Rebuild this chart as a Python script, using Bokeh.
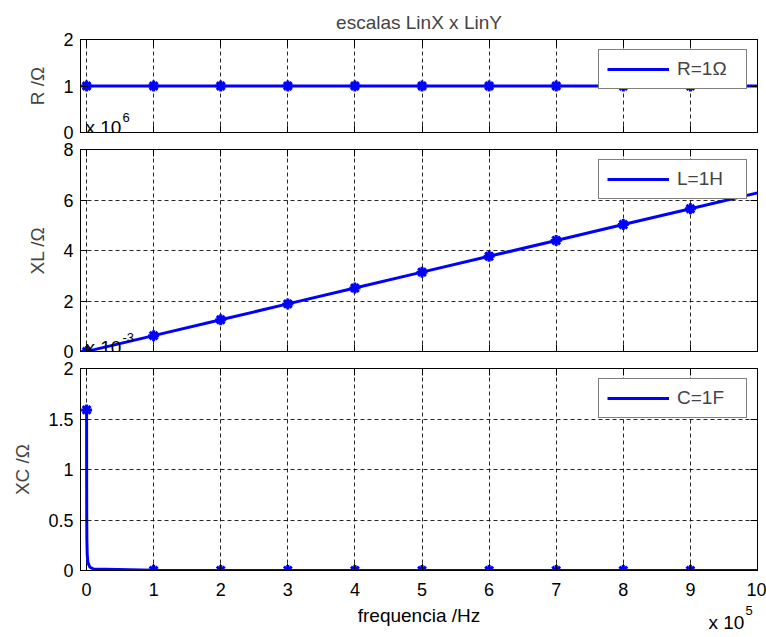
from bokeh.plotting import figure
from bokeh.models import (LinearAxis, Legend, LegendItem, Label, FixedTicker,
                          ColumnDataSource, CDSView, IndexFilter, Range1d,
                          CustomLabelingPolicy)
from bokeh.layouts import column
from bokeh.embed import file_html
from bokeh.resources import INLINE

# ---------------- data ----------------
title_text = "escalas LinX x LinY"
x_label = "frequencia /Hz"
freq_hz = [100, 150, 200, 300, 500, 1000, 2000, 5000, 10000,
           100000, 200000, 300000, 400000, 500000, 600000, 700000, 800000, 900000, 1000000]
R_ohm = [1, 1, 1, 1, 1, 1, 1, 1, 1, 1, 1, 1, 1, 1, 1, 1, 1, 1, 1]
XL_ohm = [630, 940, 1260, 1890, 3140, 6280, 12600, 31400, 62800,
          628000, 1257000, 1885000, 2513000, 3142000, 3770000, 4398000, 5027000, 5655000, 6283000]
XC_ohm = [1.59e-3, 1.06e-3, 0.80e-3, 0.53e-3, 0.32e-3, 0.16e-3, 0.08e-3, 0.032e-3, 0.016e-3,
          1.6e-6, 0.8e-6, 0.53e-6, 0.40e-6, 0.32e-6, 0.27e-6, 0.23e-6, 0.20e-6, 0.18e-6, 0.16e-6]
marker_idx = [0, 9, 10, 11, 12, 13, 14, 15, 16, 17]

x_ticks = [0, 100000, 200000, 300000, 400000, 500000, 600000, 700000, 800000, 900000, 1000000]
x_tick_labels = ["0", "1", "2", "3", "4", "5", "6", "7", "8", "9", "10"]
r_ticks = [0, 1, 2]
r_tick_labels = ["0", "1", "2"]
xl_ticks = [0, 2e6, 4e6, 6e6, 8e6]
xl_tick_labels = ["0", "2", "4", "6", "8"]
xc_ticks = [0, 0.5e-3, 1e-3, 1.5e-3, 2e-3]
xc_tick_labels = ["0", "0.5", "1", "1.5", "2"]

legend_r = "R=1\u03a9"
legend_l = "L=1H"
legend_c = "C=1F"
ylab_r = "R /\u03a9"
ylab_l = "XL /\u03a9"
ylab_c = "XC /\u03a9"

FONT = "Liberation Sans"
FS = "19px"
TFS = "18px"
BLUE = "#0000ff"
W = 766
XR = (-9000, 1000000)

src = ColumnDataSource(dict(f=freq_hz, r=R_ohm, xl=XL_ohm, xc=XC_ohm))
view = CDSView(filter=IndexFilter(marker_idx))
shared_x = Range1d(*XR)


def make_fig(height, yr, yticks, ylabels, ylab, show_x_labels, border_top, border_bottom):
    p = figure(width=W, height=height, output_backend="svg", toolbar_location=None,
               x_range=shared_x, y_range=Range1d(*yr),
               min_border_left=80, min_border_right=9,
               min_border_top=border_top, min_border_bottom=border_bottom,
               x_axis_location=None, y_axis_location=None)
    p.outline_line_color = "black"
    p.outline_line_width = 1
    p.background_fill_color = "white"
    p.border_fill_color = "white"

    def style(ax, labels_on, tick_vals, tick_labels):
        ax.ticker = FixedTicker(ticks=tick_vals)
        ax.major_label_overrides = {v: s for v, s in zip(tick_vals, tick_labels)}
        ax.major_tick_in = 7
        ax.major_tick_out = 0
        ax.minor_tick_line_color = None
        ax.axis_line_color = "black"
        ax.major_tick_line_color = "black"
        ax.major_label_text_font = FONT
        ax.major_label_text_color = "black"
        if labels_on:
            ax.major_label_text_font_size = TFS
            ax.major_label_standoff = 7
        else:
            ax.major_label_text_font_size = "0px"
            ax.major_label_standoff = 0
            ax.major_label_policy = CustomLabelingPolicy(
                code="for (const i of indices) indices.unset(i)")

    xb = LinearAxis()
    style(xb, show_x_labels, x_ticks, x_tick_labels)
    if show_x_labels:
        xb.major_label_standoff = 12
    p.add_layout(xb, "below")
    xa = LinearAxis()
    style(xa, False, x_ticks, x_tick_labels)
    p.add_layout(xa, "above")

    yl = LinearAxis()
    style(yl, True, yticks, ylabels)
    yl.axis_label = ylab
    yl.axis_label_text_font = FONT
    yl.axis_label_text_font_size = FS
    yl.axis_label_text_font_style = "normal"
    yl.axis_label_standoff = 12
    p.add_layout(yl, "left")
    yrr = LinearAxis()
    style(yrr, False, yticks, ylabels)
    p.add_layout(yrr, "right")

    p.xgrid.ticker = FixedTicker(ticks=x_ticks)
    p.ygrid.ticker = FixedTicker(ticks=yticks)
    for g in (p.xgrid, p.ygrid):
        g.grid_line_color = "black"
        g.grid_line_dash = "4 3"
        g.grid_line_width = 1
        g.grid_line_alpha = 0.85
    return p


def add_series(p, col, label):
    ln = p.line("f", col, source=src, line_color=BLUE, line_width=3)
    p.scatter("f", col, source=src, view=view, marker="asterisk", size=11,
              line_color=BLUE, line_width=3)
    lg = Legend(items=[LegendItem(label=label, renderers=[ln])], location="top_right")
    lg.border_line_color = "black"
    lg.border_line_width = 1
    lg.background_fill_alpha = 1
    lg.label_text_font = FONT
    lg.label_text_font_size = FS
    lg.glyph_width = 62
    lg.glyph_height = 18
    lg.label_standoff = 8
    lg.label_width = 61
    lg.padding = 8
    lg.margin = 10
    p.add_layout(lg, "center")


def mult_label(p, x, y, base, exp, xoff=5, sup_dy=10):
    p.add_layout(Label(x=x, y=y, text=base, text_font=FONT, text_font_size=FS,
                       text_baseline="alphabetic", text_color="black",
                       x_offset=xoff, y_offset=0))
    p.add_layout(Label(x=x, y=y, text=exp, text_font=FONT, text_font_size="13px",
                       text_baseline="alphabetic", text_color="black",
                       x_offset=xoff + 37, y_offset=sup_dy))


# top
p1 = make_fig(140, (0, 2), r_ticks, r_tick_labels, ylab_r, False, 39, 8)
p1.title.text = title_text
p1.title.align = "center"
p1.title.text_font = FONT
p1.title.text_font_size = FS
p1.title.text_font_style = "normal"
p1.title.standoff = 14
add_series(p1, "r", legend_r)
mult_label(p1, -9000, 0.1, "x 10", "6")

# middle
p2 = make_fig(221, (0, 8e6), xl_ticks, xl_tick_labels, ylab_l, False, 9, 10)
add_series(p2, "xl", legend_l)
mult_label(p2, -9000, 0.16e6, "x 10", "-3")

# bottom
p3 = make_fig(243, (0, 2e-3), xc_ticks, xc_tick_labels, ylab_c, True, 7, 34)
add_series(p3, "xc", legend_c)

# strip under the bottom axes holding the x label and the x multiplier
p4 = figure(width=W, height=33, output_backend="svg", toolbar_location=None, title=None,
            x_range=shared_x, y_range=Range1d(0, 33),
            min_border_left=80, min_border_right=9, min_border_top=0, min_border_bottom=0,
            x_axis_location=None, y_axis_location=None)
p4.outline_line_color = None
p4.xgrid.visible = False
p4.ygrid.visible = False
p4.add_layout(Label(x=(XR[0] + XR[1]) / 2, y=22, text=x_label, text_font=FONT,
                    text_font_size=FS, text_align="center", text_baseline="alphabetic",
                    text_color="black"))
mult_label(p4, 927000, 15, "x 10", "5", xoff=0, sup_dy=12)

layout = column(p1, p2, p3, p4, spacing=0)
open("out.html", "w").write(file_html(layout, INLINE))
